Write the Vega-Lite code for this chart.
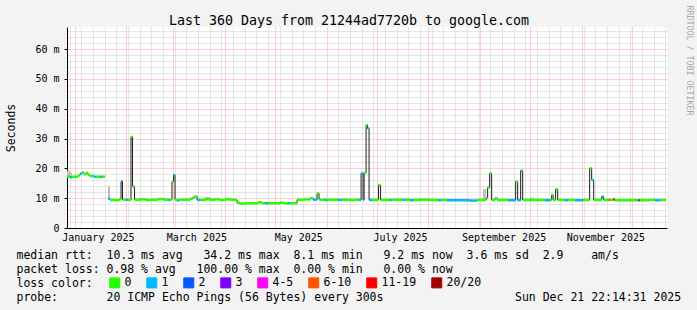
{
  "$schema": "https://vega.github.io/schema/vega-lite/v6.json",
  "width": 600,
  "height": 201,
  "autosize": {"type": "none"},
  "padding": {"left": 67, "top": 27, "right": 30, "bottom": 82},
  "background": "#f3f3f3",
  "config": {
    "view": {"fill": "white", "stroke": null},
    "font": "DejaVu Sans Mono",
    "axis": {"labelFont": "DejaVu Sans Mono", "titleFont": "DejaVu Sans Mono", "titleFontWeight": "normal", "labelColor": "black", "titleColor": "black"},
    "legend": {"labelFont": "DejaVu Sans Mono", "titleFont": "DejaVu Sans Mono"}
  },
  "data": {
    "format": {"parse": {"t": "date"}},
    "values": [
      {"t": "2024-12-27T12:00", "med": 17.2, "loss": "0", "smk": 19.2},
      {"t": "2024-12-29T07:00", "med": 17.0, "loss": "1", "smk": 18.5},
      {"t": "2024-12-30T12:00", "med": 17.2, "loss": "0"},
      {"t": "2025-01-03T02:00", "med": 17.6, "loss": "0"},
      {"t": "2025-01-04T07:00", "med": 18.2, "loss": "1"},
      {"t": "2025-01-05T12:00", "med": 18.6, "loss": "0"},
      {"t": "2025-01-06T16:00", "med": 18.0, "loss": "0"},
      {"t": "2025-01-07T21:00", "med": 18.5, "loss": "0"},
      {"t": "2025-01-09T02:00", "med": 17.8, "loss": "0"},
      {"t": "2025-01-10T07:00", "med": 17.4, "loss": "0"},
      {"t": "2025-01-12T16:00", "med": 17.2, "loss": "1"},
      {"t": "2025-01-13T21:00", "med": 17.2, "loss": "0"},
      {"t": "2025-01-16T06:00", "med": 17.2, "loss": "1"},
      {"t": "2025-01-17T11:00", "med": 17.2, "loss": "0"},
      {"t": "2025-01-19T06:00", "med": null, "loss": null},
      {"t": "2025-01-21T02:00", "med": 9.8, "loss": "1", "smk": 13.9},
      {"t": "2025-01-22T06:00", "med": 9.4, "loss": "0"},
      {"t": "2025-01-25T06:00", "med": 9.3, "loss": "0"},
      {"t": "2025-01-27T16:00", "med": 9.6, "loss": "0"},
      {"t": "2025-01-28T21:00", "med": 15.5, "loss": "2"},
      {"t": "2025-01-29T18:00", "med": 9.5, "loss": "0"},
      {"t": "2025-01-31T20:00", "med": 9.5, "loss": "1"},
      {"t": "2025-02-02T01:00", "med": 9.4, "loss": "0"},
      {"t": "2025-02-03T20:00", "med": 30.6, "loss": "0"},
      {"t": "2025-02-04T18:00", "med": 13.9, "loss": "0"},
      {"t": "2025-02-05T23:00", "med": 9.5, "loss": "0"},
      {"t": "2025-02-09T06:00", "med": 9.6, "loss": "0"},
      {"t": "2025-02-12T20:00", "med": 9.4, "loss": "0"},
      {"t": "2025-02-16T10:00", "med": 9.5, "loss": "0"},
      {"t": "2025-02-20T01:00", "med": 9.7, "loss": "0"},
      {"t": "2025-02-23T15:00", "med": 9.5, "loss": "0"},
      {"t": "2025-02-26T00:00", "med": 9.4, "loss": "1"},
      {"t": "2025-02-27T05:00", "med": 9.5, "loss": "0"},
      {"t": "2025-02-28T10:00", "med": 15.5, "loss": "0"},
      {"t": "2025-03-01T08:00", "med": 17.8, "loss": "1"},
      {"t": "2025-03-02T05:00", "med": 9.5, "loss": "0"},
      {"t": "2025-03-03T10:00", "med": 9.2, "loss": "1"},
      {"t": "2025-03-04T15:00", "med": 9.5, "loss": "0"},
      {"t": "2025-03-08T05:00", "med": 9.5, "loss": "0"},
      {"t": "2025-03-11T05:00", "med": 9.8, "loss": "0"},
      {"t": "2025-03-13T00:00", "med": 10.3, "loss": "0"},
      {"t": "2025-03-14T05:00", "med": 10.6, "loss": "0"},
      {"t": "2025-03-15T10:00", "med": 9.4, "loss": "1"},
      {"t": "2025-03-17T05:00", "med": 9.4, "loss": "0"},
      {"t": "2025-03-20T05:00", "med": 9.6, "loss": "0", "smk": 10.4},
      {"t": "2025-03-23T05:00", "med": 9.5, "loss": "0"},
      {"t": "2025-03-26T04:00", "med": 9.6, "loss": "0"},
      {"t": "2025-03-29T04:00", "med": 9.4, "loss": "0"},
      {"t": "2025-04-01T04:00", "med": 9.6, "loss": "0"},
      {"t": "2025-04-04T04:00", "med": 9.5, "loss": "0"},
      {"t": "2025-04-07T04:00", "med": 9.4, "loss": "0"},
      {"t": "2025-04-08T09:00", "med": 8.4, "loss": "0"},
      {"t": "2025-04-10T04:00", "med": 8.2, "loss": "0"},
      {"t": "2025-04-13T18:00", "med": 8.3, "loss": "0"},
      {"t": "2025-04-16T04:00", "med": 8.3, "loss": "0"},
      {"t": "2025-04-20T23:00", "med": 8.6, "loss": "0"},
      {"t": "2025-04-23T08:00", "med": 8.3, "loss": "0"},
      {"t": "2025-04-25T03:00", "med": 8.3, "loss": "1"},
      {"t": "2025-04-26T23:00", "med": 8.3, "loss": "0"},
      {"t": "2025-05-01T18:00", "med": 8.3, "loss": "0"},
      {"t": "2025-05-04T03:00", "med": 8.5, "loss": "0"},
      {"t": "2025-05-06T13:00", "med": 8.3, "loss": "0"},
      {"t": "2025-05-08T22:00", "med": 8.3, "loss": "1"},
      {"t": "2025-05-10T03:00", "med": 8.3, "loss": "0"},
      {"t": "2025-05-14T08:00", "med": 9.5, "loss": "0"},
      {"t": "2025-05-19T03:00", "med": 9.6, "loss": "0"},
      {"t": "2025-05-22T03:00", "med": 10.0, "loss": "0"},
      {"t": "2025-05-23T22:00", "med": 9.5, "loss": "1"},
      {"t": "2025-05-26T07:00", "med": 11.6, "loss": "0"},
      {"t": "2025-05-27T12:00", "med": 9.5, "loss": "0"},
      {"t": "2025-05-31T02:00", "med": 9.4, "loss": "1"},
      {"t": "2025-06-01T06:00", "med": 9.5, "loss": "0"},
      {"t": "2025-06-07T21:00", "med": 9.4, "loss": "1"},
      {"t": "2025-06-10T07:00", "med": 9.5, "loss": "0"},
      {"t": "2025-06-15T02:00", "med": 9.4, "loss": "0"},
      {"t": "2025-06-18T02:00", "med": 9.5, "loss": "0"},
      {"t": "2025-06-20T11:00", "med": 9.4, "loss": "1"},
      {"t": "2025-06-21T16:00", "med": 18.3, "loss": "1"},
      {"t": "2025-06-22T21:00", "med": 9.4, "loss": "1"},
      {"t": "2025-06-23T11:00", "med": 18.5, "loss": "0"},
      {"t": "2025-06-24T16:00", "med": 34.5, "loss": "0"},
      {"t": "2025-06-25T13:00", "med": 33.4, "loss": "1"},
      {"t": "2025-06-26T11:00", "med": 9.4, "loss": "1"},
      {"t": "2025-06-28T06:00", "med": 9.4, "loss": "0"},
      {"t": "2025-07-02T03:00", "med": 14.4, "loss": "0"},
      {"t": "2025-07-03T08:00", "med": 9.4, "loss": "0"},
      {"t": "2025-07-09T01:00", "med": 9.4, "loss": "1"},
      {"t": "2025-07-10T06:00", "med": 9.5, "loss": "0"},
      {"t": "2025-07-16T20:00", "med": 9.4, "loss": "1"},
      {"t": "2025-07-18T01:00", "med": 9.5, "loss": "0"},
      {"t": "2025-07-21T01:00", "med": 9.3, "loss": "1"},
      {"t": "2025-07-22T20:00", "med": 9.4, "loss": "0"},
      {"t": "2025-07-27T00:00", "med": 9.5, "loss": "0"},
      {"t": "2025-08-02T00:00", "med": 9.4, "loss": "0"},
      {"t": "2025-08-06T19:00", "med": 9.3, "loss": "1"},
      {"t": "2025-08-08T14:00", "med": 9.4, "loss": "0"},
      {"t": "2025-08-12T04:00", "med": 9.3, "loss": "1"},
      {"t": "2025-08-20T00:00", "med": 9.3, "loss": "1"},
      {"t": "2025-08-26T00:00", "med": 9.2, "loss": "1"},
      {"t": "2025-08-30T04:00", "med": 9.4, "loss": "0"},
      {"t": "2025-09-02T18:00", "med": 9.4, "loss": "0", "smk": 13.0},
      {"t": "2025-09-04T14:00", "med": 10.0, "loss": "0"},
      {"t": "2025-09-05T11:00", "med": 13.6, "loss": "0"},
      {"t": "2025-09-06T16:00", "med": 18.3, "loss": "0"},
      {"t": "2025-09-07T21:00", "med": 9.4, "loss": "0"},
      {"t": "2025-09-09T23:00", "med": 10.0, "loss": "0"},
      {"t": "2025-09-11T04:00", "med": 9.4, "loss": "0"},
      {"t": "2025-09-15T23:00", "med": 9.4, "loss": "0"},
      {"t": "2025-09-17T18:00", "med": 9.3, "loss": "1"},
      {"t": "2025-09-22T06:00", "med": 15.5, "loss": "0"},
      {"t": "2025-09-23T11:00", "med": 9.3, "loss": "1"},
      {"t": "2025-09-25T06:00", "med": 19.2, "loss": "1"},
      {"t": "2025-09-26T11:00", "med": 9.4, "loss": "0"},
      {"t": "2025-09-30T23:00", "med": 9.4, "loss": "0", "smk": 10.2},
      {"t": "2025-10-02T19:00", "med": 9.4, "loss": "0"},
      {"t": "2025-10-09T23:00", "med": 9.3, "loss": "1"},
      {"t": "2025-10-12T22:00", "med": 9.4, "loss": "0"},
      {"t": "2025-10-13T20:00", "med": 11.1, "loss": "0"},
      {"t": "2025-10-14T17:00", "med": 9.4, "loss": "0"},
      {"t": "2025-10-16T05:00", "med": 13.0, "loss": "0"},
      {"t": "2025-10-17T10:00", "med": 9.4, "loss": "0"},
      {"t": "2025-10-21T22:00", "med": 9.3, "loss": "1"},
      {"t": "2025-10-23T17:00", "med": 9.4, "loss": "0"},
      {"t": "2025-10-27T22:00", "med": 9.3, "loss": "1"},
      {"t": "2025-11-01T17:00", "med": 9.4, "loss": "0"},
      {"t": "2025-11-05T14:00", "med": 20.0, "loss": "0"},
      {"t": "2025-11-06T19:00", "med": 16.1, "loss": "1"},
      {"t": "2025-11-08T00:00", "med": 9.4, "loss": "0"},
      {"t": "2025-11-12T19:00", "med": 10.5, "loss": "1"},
      {"t": "2025-11-14T00:00", "med": 9.4, "loss": "0"},
      {"t": "2025-11-16T17:00", "med": 9.4, "loss": "6-10"},
      {"t": "2025-11-17T14:00", "med": 9.4, "loss": "0"},
      {"t": "2025-11-19T17:00", "med": 9.6, "loss": "11-19"},
      {"t": "2025-11-20T14:00", "med": 9.3, "loss": "0"},
      {"t": "2025-11-26T22:00", "med": 9.3, "loss": "0"},
      {"t": "2025-12-04T17:00", "med": 9.3, "loss": "3"},
      {"t": "2025-12-05T14:00", "med": 9.3, "loss": "0"},
      {"t": "2025-12-10T17:00", "med": 9.4, "loss": "0"},
      {"t": "2025-12-14T22:00", "med": 9.3, "loss": "1"},
      {"t": "2025-12-17T22:00", "med": 9.4, "loss": "0"},
      {"t": "2025-12-21T05:00", "med": null, "loss": null}
    ]
  },
  "transform": [
    {"window": [{"op": "lead", "field": "t", "as": "t2"}], "sort": [{"field": "t", "order": "ascending"}]}
  ],
  "layer": [
    {
      "mark": {"type": "rect", "color": "#bdbdbd"},
      "encoding": {
        "x": {
          "field": "t", "type": "temporal",
          "scale": {"domain": [{"year": 2024, "month": 12, "date": 27, "hours": 12}, {"year": 2025, "month": 12, "date": 21, "hours": 22}], "nice": false},
          "axis": {
            "orient": "bottom",
            "tickCount": {"interval": "day", "step": 1},
            "grid": true,
            "gridColor": {"condition": {"test": "date(datum.value) == 1", "value": "#ff9e9e"}, "value": "#cccccc"},
            "gridOpacity": {"condition": {"test": "date(datum.value) == 1 || day(datum.value) == 0", "value": 1}, "value": 0},
            "gridDash": [1, 1],
            "gridWidth": 1,
            "domain": true, "domainColor": "black", "domainWidth": 1,
            "ticks": false,
            "labelExpr": "date(datum.value) == 15 && month(datum.value) % 2 == 0 ? timeFormat(datum.value, '%B %Y') : ''",
            "labelFontSize": 10, "labelPadding": 4, "labelBaseline": "top", "labelAngle": 0,
            "labelOverlap": false, "labelFlush": false, "labelAlign": "center",
            "title": [
              "median rtt:\u00a0\u00a010.3 ms avg\u00a0\u00a0\u00a034.2 ms max\u00a0\u00a08.1 ms min\u00a0\u00a0\u00a09.2 ms now\u00a0\u00a03.6 ms sd\u00a0\u00a02.9\u00a0\u00a0\u00a0\u00a0am/s",
              "packet loss: 0.98 % avg\u00a0\u00a0\u00a0100.00 % max\u00a0\u00a00.00 % min\u00a0\u00a0\u00a00.00 % now",
              "loss color:",
              "probe:\u00a0\u00a0\u00a0\u00a0\u00a0\u00a0\u00a020 ICMP Echo Pings (56 Bytes) every 300s\u00a0\u00a0\u00a0\u00a0\u00a0\u00a0\u00a0\u00a0\u00a0\u00a0\u00a0\u00a0\u00a0\u00a0\u00a0\u00a0\u00a0\u00a0\u00a0Sun Dec 21 22:14:31 2025"
            ],
            "titleX": -51, "titleY": 30, "titleAlign": "left", "titleAnchor": "start",
            "titleBaseline": "alphabetic", "titleFontSize": 11.5, "titleLineHeight": 14, "titleAngle": 0
          }
        },
        "x2": {"field": "t2"},
        "y": {
          "field": "smk", "type": "quantitative",
          "scale": {"domain": [0, 67.4], "nice": false, "zero": true},
          "axis": {
            "orient": "left",
            "values": [0, 2, 4, 6, 8, 10, 12, 14, 16, 18, 20, 22, 24, 26, 28, 30, 32, 34, 36, 38, 40, 42, 44, 46, 48, 50, 52, 54, 56, 58, 60, 62, 64, 66],
            "grid": true,
            "gridColor": {"condition": {"test": "datum.value % 10 == 0", "value": "#ff9e9e"}, "value": "#cccccc"},
            "gridDash": [1, 1],
            "gridWidth": 1,
            "domain": true, "domainColor": "black", "domainWidth": 1,
            "ticks": true, "tickSize": 3, "tickColor": "black",
            "tickOpacity": {"condition": {"test": "datum.value % 10 == 0", "value": 1}, "value": 0},
            "labelExpr": "datum.value % 10 == 0 ? (datum.value == 0 ? '0' : datum.value + ' m') : ''",
            "labelFontSize": 10, "labelPadding": 5, "labelOverlap": false, "labelFlush": false,
            "title": "Seconds", "titleFontSize": 11.5,
            "titleX": -56, "titleY": 100.5, "titleAngle": -90, "titleAlign": "center", "titleBaseline": "middle"
          }
        },
        "y2": {"field": "med"}
      }
    },
    {
      "mark": {"type": "line", "interpolate": "step-after", "color": "#202020", "strokeWidth": 1, "invalid": "break-paths-show-domains"},
      "encoding": {
        "x": {
          "field": "t", "type": "temporal",
          "scale": {"domain": [{"year": 2024, "month": 12, "date": 27, "hours": 12}, {"year": 2025, "month": 12, "date": 21, "hours": 22}], "nice": false},
          "axis": {
            "orient": "top", "grid": false, "domain": false, "ticks": false, "labels": false,
            "title": "Last 360 Days from 21244ad7720b to google.com",
            "titleX": 281.5, "titleY": -3, "titleAlign": "center", "titleBaseline": "alphabetic",
            "titleFontSize": 13.3, "titleAngle": 0
          }
        },
        "y": {
          "field": "med", "type": "quantitative",
          "scale": {"domain": [0, 67.4], "nice": false, "zero": true},
          "axis": {
            "orient": "right", "grid": false, "domain": false, "ticks": false, "labels": false,
            "title": "RRDTOOL / TOBI OETIKER",
            "titleX": 21, "titleY": -22, "titleAngle": 90, "titleAlign": "left", "titleBaseline": "middle",
            "titleFontSize": 8.3, "titleColor": "#a8a8a8"
          }
        }
      }
    },
    {
      "mark": {"type": "rule", "strokeWidth": 2.5},
      "encoding": {
        "x": {
          "field": "t", "type": "temporal",
          "scale": {"domain": [{"year": 2024, "month": 12, "date": 27, "hours": 12}, {"year": 2025, "month": 12, "date": 21, "hours": 22}], "nice": false},
          "axis": null
        },
        "x2": {"field": "t2"},
        "y": {
          "field": "med", "type": "quantitative",
          "scale": {"domain": [0, 67.4], "nice": false, "zero": true},
          "axis": null
        },
        "stroke": {
          "field": "loss", "type": "nominal",
          "scale": {
            "domain": ["0", "1", "2", "3", "4-5", "6-10", "11-19", "20/20"],
            "range": ["#26ff00", "#00b8ff", "#0059ff", "#7e00ff", "#ff00ff", "#ff5500", "#ff0000", "#a10000"]
          },
          "legend": null
        },
        "fill": {
          "field": "loss", "type": "nominal",
          "scale": {
            "domain": ["0", "1", "2", "3", "4-5", "6-10", "11-19", "20/20"],
            "range": ["#26ff00", "#00b8ff", "#0059ff", "#7e00ff", "#ff00ff", "#ff5500", "#ff0000", "#a10000"]
          },
          "legend": {
            "orient": "none", "legendX": 42, "legendY": 250, "direction": "horizontal",
            "title": null, "padding": 0,
            "symbolType": "square", "symbolSize": 100, "symbolStrokeColor": "black", "symbolStrokeWidth": 1, "symbolOpacity": 1,
            "labelFontSize": 11.5, "labelColor": "black", "labelOffset": 4, "columnPadding": 12
          }
        }
      }
    }
  ],
  "resolve": {"axis": {"x": "independent", "y": "independent"}}
}
